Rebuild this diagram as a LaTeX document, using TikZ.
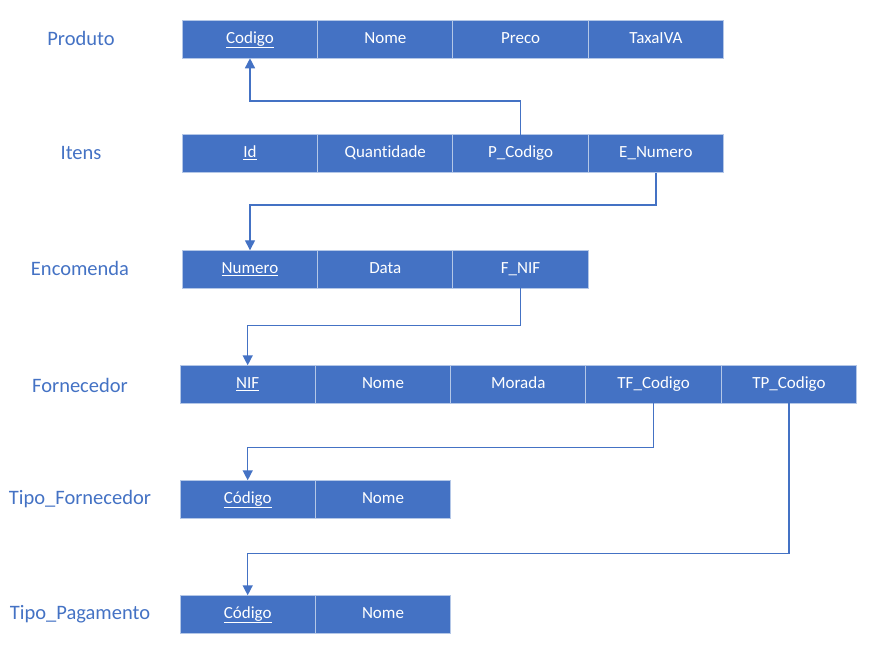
\documentclass[tikz,border=0pt]{standalone}
\usepackage{fontspec}
\setmainfont{Carlito}[Ligatures=NoCommon]
\usetikzlibrary{positioning,arrows.meta}

\definecolor{azul}{RGB}{68,114,196}
\definecolor{borda}{RGB}{180,199,231}

\tikzset{
	campo/.style={draw=borda, line width=1pt, fill=azul, text=white, minimum width=135.3pt, minimum height=38pt, inner sep=0pt, outer sep=0pt, text height=12pt, text depth=4pt, font=\fontsize{17}{19}\selectfont},
	tabela/.style={text=azul, font=\fontsize{20.5}{23}\selectfont},
	liga/.style={draw=azul, line width=1.4pt, -{Triangle[width=10pt,length=10pt]}}
}

\begin{document}
\begin{tikzpicture}[x=1pt,y=-1pt]
	\useasboundingbox (0,0) rectangle (876,647);
	%\draw[help lines] (0,0) grid[step=50] (876,647);

	% Produto
	\node[tabela] (tProduto) at (81,38) {Produto};
	\node[campo] (pCodigo) at (250,39.3) {\underline{Codigo}};
	\node[campo, right=0pt of pCodigo] (pNome) {Nome};
	\node[campo, right=0pt of pNome] (pPreco) {Preco};
	\node[campo, right=0pt of pPreco] (pTaxa) {TaxaIVA};

	% Itens
	\node[tabela] (tItens) at (81,153) {Itens};
	\node[campo] (iId) at (250,154) {\underline{Id}};
	\node[campo, right=0pt of iId] (iQtd) {Quantidade};
	\node[campo, right=0pt of iQtd] (iPCod) {P\_Codigo};
	\node[campo, right=0pt of iPCod] (iENum) {E\_Numero};

	% Encomenda
	\node[tabela] (tEncomenda) at (80,268) {Encomenda};
	\node[campo] (eNumero) at (250,269.3) {\underline{Numero}};
	\node[campo, right=0pt of eNumero] (eData) {Data};
	\node[campo, right=0pt of eData] (eFNIF) {F\_NIF};

	% Fornecedor
	\node[tabela] (tFornecedor) at (80,385) {Fornecedor};
	\node[campo] (fNIF) at (247.7,384.3) {\underline{NIF}};
	\node[campo, right=0pt of fNIF] (fNome) {Nome};
	\node[campo, right=0pt of fNome] (fMorada) {Morada};
	\node[campo, right=0pt of fMorada] (fTFCod) {TF\_Codigo};
	\node[campo, right=0pt of fTFCod] (fTPCod) {TP\_Codigo};

	% Tipo_Fornecedor
	\node[tabela] (tTipoForn) at (80,499) {Tipo\_Fornecedor};
	\node[campo] (tfCodigo) at (247.7,499.3) {\underline{Código}};
	\node[campo, right=0pt of tfCodigo] (tfNome) {Nome};

	% Tipo_Pagamento
	\node[tabela] (tTipoPag) at (80,614) {Tipo\_Pagamento};
	\node[campo] (tpCodigo) at (247.7,614.3) {\underline{Código}};
	\node[campo, right=0pt of tpCodigo] (tpNome) {Nome};

	% chaves estrangeiras
	\draw[liga] (iPCod.north) -- ++(0,-34) -| (pCodigo.south);
	\draw[liga] (iENum.south) -- ++(0,32) -| (eNumero.north);
	\draw[liga] (eFNIF.south) -- ++(0,37) -| (fNIF.north);
	\draw[liga] (fTFCod.south) -- ++(0,44) -| (tfCodigo.north);
	\draw[liga] (fTPCod.south) -- ++(0,150) -| (tpCodigo.north);
\end{tikzpicture}
\end{document}
